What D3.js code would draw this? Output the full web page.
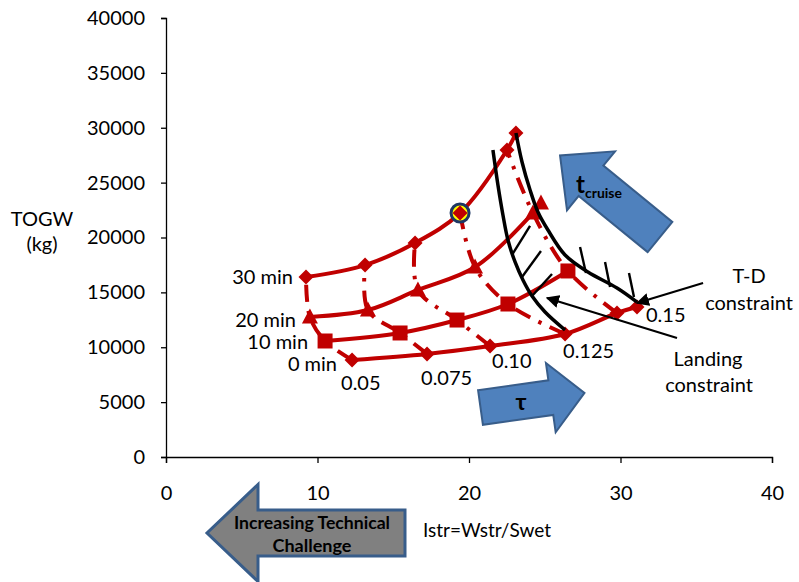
<!DOCTYPE html>
<html><head><meta charset="utf-8">
<script src="https://cdn.jsdelivr.net/npm/d3@7"></script>
<style>
body{margin:0;background:#fff}
svg{display:block}
text{font-family:Lato,'DejaVu Sans',sans-serif;fill:#000}
</style>
</head><body>
<svg id="c" width="799" height="582"></svg>
<script>
// ---------------- data ----------------
const xTicks = [0, 10, 20, 30, 40];
const yTicks = [0, 5000, 10000, 15000, 20000, 25000, 30000, 35000, 40000];
const timeLabels = ["30 min", "20 min", "10 min", "0 min"];
const tauLabels = ["0.05", "0.075", "0.10", "0.125", "0.15"];

// constant-time curves (Istr, TOGW)
const istr30 = [9.24, 13.14, 16.44, 19.41, 22.51, 23.10];
const togw30 = [16400, 17490, 19500, 22230, 27970, 29520];
const istr20 = [9.50, 13.33, 16.63, 20.40, 24.22, 24.75];
const togw20 = [12760, 13390, 15220, 17310, 22230, 23140];
const istr10 = [10.50, 15.45, 19.21, 22.57, 26.53];
const togw10 = [10570, 11300, 12480, 13940, 16950];
const istr0 = [12.28, 17.23, 21.39, 26.34, 29.77, 31.09];
const togw0 = [8840, 9390, 10110, 11210, 13120, 13670];

// constraint curves
const landingX = [21.58, 21.91, 22.24, 22.57, 23.04, 23.56, 24.16, 25.02, 26.34];
const landingY = [27970, 24780, 22050, 19770, 17770, 16130, 14670, 13210, 11570];
const tdX = [23.10, 23.50, 24.03, 24.55, 25.21, 26.34, 27.85, 29.77, 31.09];
const tdY = [29520, 26880, 24330, 22320, 20680, 18410, 16860, 15400, 14120];

// hatch segments [x1, y1, x2, y2]
const landingHatch = [[22.84, 18410, 24.03, 21050], [23.50, 16400, 24.75, 18770], [24.16, 14670, 25.48, 16670]];
const tdHatch = [[27.33, 19130, 27.72, 16770], [28.98, 17770, 29.31, 15490], [30.56, 16770, 30.89, 14580]];

// pointer arrows [fromX, fromY, toX, toY]
const tdPointer = [35.45, 15850, 31.09, 14030];
const landingPointer = [33.73, 10840, 25.15, 14490];

// ---------------- setup ----------------
const svg = d3.select("#c");
const x = d3.scaleLinear().domain([0, 40]).range([166, 772]);
const y = d3.scaleLinear().domain([0, 40000]).range([457, 18]);
const RED = "#c00000";
const FS = 20;

const defs = svg.append("defs");
defs.append("marker").attr("id", "ah").attr("viewBox", "0 0 10 10").attr("refX", 9).attr("refY", 5)
  .attr("markerWidth", 6).attr("markerHeight", 6).attr("markerUnits", "strokeWidth").attr("orient", "auto")
  .append("path").attr("d", "M0,0 L10,5 L0,10 z").attr("fill", "#000");

// ---------------- axes ----------------
const yAxis = svg.append("g").attr("transform", `translate(${x(0)},0)`)
  .call(d3.axisLeft(y).tickValues(yTicks).tickSize(5).tickPadding(16).tickFormat(d3.format("d")));
const xAxis = svg.append("g").attr("transform", `translate(0,${y(0)})`)
  .call(d3.axisBottom(x).tickValues(xTicks).tickSize(6).tickPadding(23).tickFormat(d3.format("d")));
[xAxis, yAxis].forEach(g => {
  g.select(".domain").attr("stroke", "#000").attr("stroke-width", 1.3);
  g.selectAll(".tick line").attr("stroke", "#000").attr("stroke-width", 1.3);
  g.selectAll(".tick text").attr("font-size", FS).attr("font-family", "Lato, sans-serif").attr("fill", "#000");
});

svg.append("text").attr("x", 42).attr("y", 226).attr("text-anchor", "middle").attr("font-size", FS).text("TOGW");
svg.append("text").attr("x", 42).attr("y", 251).attr("text-anchor", "middle").attr("font-size", FS).text("(kg)");
svg.append("text").attr("x", 487).attr("y", 537).attr("text-anchor", "middle").attr("font-size", 19).text("Istr=Wstr/Swet");

// ---------------- data marks ----------------
const curves = [
  {xs: istr30, ys: togw30, shape: "diamond"},
  {xs: istr20, ys: togw20, shape: "triangle"},
  {xs: istr10, ys: togw10, shape: "square"},
  {xs: istr0, ys: togw0, shape: "diamond"}
];
const pts = c => c.xs.map((v, i) => [v, c.ys[i]]);
const smooth = d3.line().x(d => x(d[0])).y(d => y(d[1])).curve(d3.curveCatmullRom.alpha(0.5));

// constant tau dashed lines (0 min -> 30 min)
const order = [3, 2, 1, 0];
tauLabels.forEach((t, k) => {
  const p = order.map(ci => [curves[ci].xs[k], curves[ci].ys[k]]);
  svg.append("path").attr("d", smooth(p)).attr("fill", "none").attr("stroke", RED)
    .attr("stroke-width", 4).attr("stroke-dasharray", "17,9,3.5,9");
});

// constant time curves
curves.forEach(c => {
  svg.append("path").attr("d", smooth(pts(c))).attr("fill", "none").attr("stroke", RED).attr("stroke-width", 4);
});

// highlight circle
svg.append("circle").attr("cx", x(istr30[3])).attr("cy", y(togw30[3])).attr("r", 9)
  .attr("fill", "#ffff00").attr("stroke", "#1f3864").attr("stroke-width", 3);

// markers
const shapePath = {
  diamond: "M0,-7.5L7.5,0L0,7.5L-7.5,0Z",
  square: "M-7.5,-7.5H7.5V7.5H-7.5Z",
  triangle: "M0,-8.5L8,6.5H-8Z"
};
curves.forEach(c => {
  svg.append("g").selectAll("path").data(pts(c)).join("path")
    .attr("d", shapePath[c.shape]).attr("fill", RED)
    .attr("transform", d => `translate(${x(d[0])},${y(d[1])})`);
});

// time labels (to the left of first point)
const timeOffsets = [[-13, 7], [-14, 10], [-17, 8], [-15, 11]];
curves.forEach((c, i) => {
  svg.append("text").attr("x", x(c.xs[0]) + timeOffsets[i][0]).attr("y", y(c.ys[0]) + timeOffsets[i][1])
    .attr("text-anchor", "end").attr("font-size", FS).text(timeLabels[i]);
});

// tau labels (below the 0 min points)
const tauOffsets = [[-11, 30], [-6, 31], [2, 22], [-2, 24], [29, 9]];
tauLabels.forEach((t, k) => {
  svg.append("text").attr("x", x(istr0[k]) + tauOffsets[k][0]).attr("y", y(togw0[k]) + tauOffsets[k][1])
    .attr("font-size", FS).text(t);
});

// ---------------- constraints ----------------
svg.append("path").attr("d", smooth(landingX.map((v, i) => [v, landingY[i]]))).attr("fill", "none")
  .attr("stroke", "#000").attr("stroke-width", 3.5);
svg.append("path").attr("d", smooth(tdX.map((v, i) => [v, tdY[i]]))).attr("fill", "none")
  .attr("stroke", "#000").attr("stroke-width", 3.5);
landingHatch.concat(tdHatch).forEach(h => {
  svg.append("line").attr("x1", x(h[0])).attr("y1", y(h[1])).attr("x2", x(h[2])).attr("y2", y(h[3]))
    .attr("stroke", "#000").attr("stroke-width", 2.4);
});
[tdPointer, landingPointer].forEach(p => {
  svg.append("line").attr("x1", x(p[0])).attr("y1", y(p[1])).attr("x2", x(p[2])).attr("y2", y(p[3]))
    .attr("stroke", "#000").attr("stroke-width", 2.2).attr("marker-end", "url(#ah)");
});

svg.append("text").attr("x", 749).attr("y", 283).attr("text-anchor", "middle").attr("font-size", FS).text("T-D");
svg.append("text").attr("x", 749).attr("y", 310).attr("text-anchor", "middle").attr("font-size", FS).text("constraint");
svg.append("text").attr("x", 708).attr("y", 366).attr("text-anchor", "middle").attr("font-size", FS).text("Landing");
svg.append("text").attr("x", 709).attr("y", 392).attr("text-anchor", "middle").attr("font-size", FS).text("constraint");

// ---------------- block arrows ----------------
function blockArrow(L, h1, h2, hl) {
  return `M0,${-h1}L${L - hl},${-h1}L${L - hl},${-h2}L${L},0L${L - hl},${h2}L${L - hl},${h1}L0,${h1}Z`;
}
// technical challenge (points left)
svg.append("path").attr("d", blockArrow(198, 23, 48.5, 51))
  .attr("transform", "translate(405,533) rotate(180)")
  .attr("fill", "#808080").attr("stroke", "#385d8a").attr("stroke-width", 3);
svg.append("text").attr("x", 312).attr("y", 529).attr("text-anchor", "middle").attr("font-size", 16.5)
  .attr("font-weight", "bold").attr("textLength", 156).attr("lengthAdjust", "spacingAndGlyphs")
  .text("Increasing Technical");
svg.append("text").attr("x", 312).attr("y", 552).attr("text-anchor", "middle").attr("font-size", 16.5)
  .attr("font-weight", "bold").attr("textLength", 79).attr("lengthAdjust", "spacingAndGlyphs")
  .text("Challenge");

// tau arrow
svg.append("path").attr("d", blockArrow(105, 17.5, 35, 34))
  .attr("transform", "translate(480.5,407.5) rotate(-8)")
  .attr("fill", "#4f81bd").attr("stroke", "#385d8a").attr("stroke-width", 2);
svg.append("text").attr("x", 521).attr("y", 410).attr("text-anchor", "middle").attr("font-size", 23)
  .attr("font-weight", "bold").attr("font-family", "'DejaVu Serif', serif").text("τ");

// t_cruise arrow
svg.append("path").attr("d", blockArrow(129, 19.5, 38, 40))
  .attr("transform", "translate(660,237) rotate(-140.8)")
  .attr("fill", "#4f81bd").attr("stroke", "#385d8a").attr("stroke-width", 2);
const tc = svg.append("text").attr("x", 576).attr("y", 193).attr("font-weight", "bold");
tc.append("tspan").attr("font-size", 24).text("t");
tc.append("tspan").attr("font-size", 14).attr("dy", 5).text("cruise");
</script>
</body></html>
